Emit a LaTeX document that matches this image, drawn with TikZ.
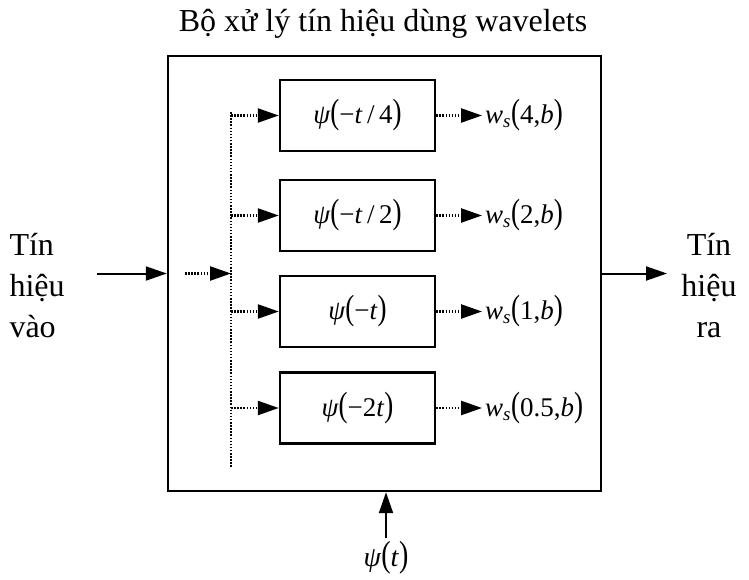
\documentclass[tikz,border=0pt]{standalone}
\usepackage{fontspec}
\setmainfont{Liberation Serif}
\usepackage{graphicx}
\usetikzlibrary{arrows.meta}
% tall brackets round an argument
\newcommand{\bpar}[1]{\scalebox{1}[1.3]{(}#1\scalebox{1}[1.3]{)}}
\newcommand{\psif}[1]{\textit{ψ}\bpar{#1}}
\newcommand{\wsf}[1]{\textit{w}\textsubscript{\textit{s}}\bpar{#1}}

\begin{document}
\begin{tikzpicture}[x=1pt,y=-1pt,
  tip/.style={-{Triangle[length=21pt,width=14pt]}},
  dotline/.style={line width=2.4pt,dash pattern=on 1.5pt off 1.6pt},
  fbox/.style={draw,line width=2.5pt,minimum width=155pt,minimum height=71pt,inner sep=0pt,font=\fontsize{27}{30}\selectfont},
  lbl/.style={font=\fontsize{32}{41}\selectfont}]
\useasboundingbox (0,0) rectangle (749,579);
\node[lbl] (title) at (383,24) {Bộ xử lý tín hiệu dùng wavelets};
\node[draw,line width=2.4pt,minimum width=433pt,minimum height=435pt,inner sep=0pt] (proc) at (384.5,273.5) {};
\coordinate (bus) at (231,112);
\coordinate (busend) at (231,467);
\draw[dotline] (bus) -- (busend);
\foreach \y/\arg/\w [count=\i] in {115.5/{−\textit{t}\,/\,4}/4,215.5/{−\textit{t}\,/\,2}/2,311.5/{−\textit{t}}/1,408/{−2\textit{t}}/0.5}{
  \node[fbox] (f\i) at (357.5,\y) {\psif{\arg}};
  \node[anchor=west,inner sep=3pt,font=\fontsize{27}{30}\selectfont] (w\i) at (482,\y) {\wsf{\w,\textit{b}}};
  \draw[dotline,tip] (f\i.west -| bus) -- (f\i.west);
  \draw[dotline,tip] (f\i.east) -- (w\i.west);
}
% input and output
\node[lbl,align=left,anchor=west] (vin) at (6,286) {Tín\\hiệu\\vào};
\node[lbl,align=center] (vout) at (709,286) {Tín\\hiệu\\ra};
\coordinate (inp) at (97,273.5);
\coordinate (dotin) at (185,273.5);
\coordinate (split) at (231,273.5);
\coordinate (outp) at (667,273.5);
\draw[line width=2pt,tip] (inp) -- (proc.west);
\draw[dotline,tip] (dotin) -- (split);
\draw[line width=2pt,tip] (proc.east) -- (outp);
\node[font=\fontsize{28}{30}\selectfont] (psit) at (386,558) {\psif{\textit{t}}};
\draw[line width=2pt,tip] (psit.north) -- (psit.north |- proc.south);
\end{tikzpicture}
\end{document}
